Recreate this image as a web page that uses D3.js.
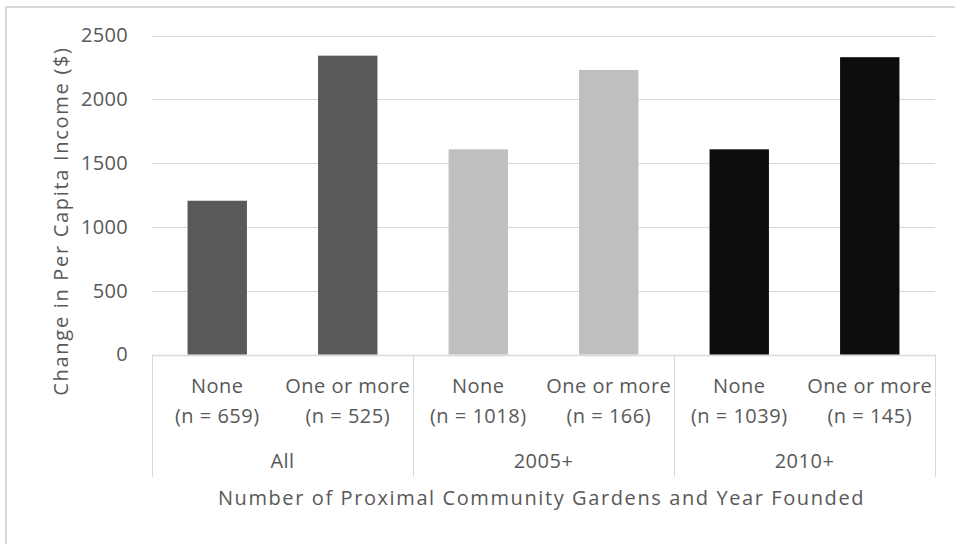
<!DOCTYPE html>
<html>
<head>
<meta charset="utf-8">
<script src="https://cdn.jsdelivr.net/npm/d3@7"></script>
<style>
  body { margin: 0; background: #fff; }
  svg { display: block; font-family: "Open Sans", Lato, sans-serif; }
</style>
</head>
<body>
<svg width="955" height="544"></svg>
<script>
// ---- dados
const groups = ['All', '2005+', '2010+'];
const subLabels = ['None', 'One or more', 'None', 'One or more', 'None', 'One or more'];
const nLabels = ['(n = 659)', '(n = 525)', '(n = 1018)', '(n = 166)', '(n = 1039)', '(n = 145)'];
const values = [1205, 2342, 1608, 2230, 1608, 2330];
const groupColors = ['#595959', '#bfbfbf', '#0d0d0d'];
const yTicks = [0, 500, 1000, 1500, 2000, 2500];

const svg = d3.select('svg');
const textColor = '#595959';
const fontFamily = '"Open Sans", Lato, sans-serif';
const fontSize = 20;

const plot = { left: 152, right: 935, top: 35.5, bottom: 354.5 };
const sepBottom = 477;

// borda do gráfico (só topo e esquerda aparecem)
svg.append('rect')
    .attr('x', 6).attr('y', 7)
    .attr('width', 1000).attr('height', 600)
    .attr('fill', 'none')
    .attr('stroke', '#d9d9d9')
    .attr('stroke-width', 2);

const data = values.map((v, i) => ({
    key: i,
    group: groups[Math.floor(i / 2)],
    sub: subLabels[i],
    n: nLabels[i],
    value: v
}));

// ---- escalas
const mapX = d3.scaleBand()
    .domain(data.map(d => d.key))
    .range([plot.left, plot.right])
    .paddingInner(0.545)
    .paddingOuter(0.2725);

const mapGroup = d3.scaleBand()
    .domain(groups)
    .range([plot.left, plot.right]);

const mapY = d3.scaleLinear()
    .domain([0, 2500])
    .range([plot.bottom, plot.top]);

// ---- grade + eixo y
const yAxis = d3.axisLeft(mapY)
    .tickValues(yTicks)
    .tickFormat(d3.format('d'))
    .tickSize(0)
    .tickPadding(0);

const gy = svg.append('g')
    .attr('transform', `translate(128,0)`)
    .call(yAxis);
gy.select('.domain').remove();
gy.selectAll('text')
    .attr('fill', textColor)
    .style('font-size', fontSize + 'px')
    .style('font-family', fontFamily)
    .style('letter-spacing', '0.3px');

svg.append('g')
    .selectAll('line')
    .data(yTicks)
    .join('line')
    .attr('x1', plot.left)
    .attr('x2', plot.right)
    .attr('y1', d => Math.round(mapY(d)) + 0.5)
    .attr('y2', d => Math.round(mapY(d)) + 0.5)
    .attr('stroke', '#d9d9d9')
    .attr('stroke-width', d => d === 0 ? 1.5 : 1);

// separadores das categorias
svg.append('g')
    .selectAll('line')
    .data(groups.map(g => mapGroup(g)).concat([plot.right]))
    .join('line')
    .attr('x1', d => Math.round(d) + 0.5)
    .attr('x2', d => Math.round(d) + 0.5)
    .attr('y1', plot.bottom)
    .attr('y2', sepBottom)
    .attr('stroke', '#d9d9d9')
    .attr('stroke-width', 1);

// ---- barras
svg.append('g')
    .selectAll('rect')
    .data(data)
    .join('rect')
    .attr('x', d => mapX(d.key))
    .attr('y', d => mapY(d.value))
    .attr('width', mapX.bandwidth())
    .attr('height', d => mapY(0) - mapY(d.value))
    .attr('fill', d => groupColors[groups.indexOf(d.group)]);

// ---- rótulos das categorias
const labels = svg.append('g')
    .attr('fill', textColor)
    .style('font-size', fontSize + 'px')
    .style('letter-spacing', '0.5px')
    .attr('text-anchor', 'middle');

labels.selectAll('.sub')
    .data(data)
    .join('text')
    .attr('class', 'sub')
    .attr('x', d => mapX(d.key) + mapX.bandwidth() / 2)
    .attr('y', 393)
    .text(d => d.sub);

labels.selectAll('.n')
    .data(data)
    .join('text')
    .attr('class', 'n')
    .attr('x', d => mapX(d.key) + mapX.bandwidth() / 2)
    .attr('y', 423)
    .text(d => d.n);

labels.selectAll('.grp')
    .data(groups)
    .join('text')
    .attr('class', 'grp')
    .attr('x', d => mapGroup(d) + mapGroup.bandwidth() / 2)
    .attr('y', 468)
    .text(d => d);

// ---- títulos dos eixos
svg.append('text')
    .attr('x', (plot.left + plot.right) / 2 - 2)
    .attr('y', 505)
    .attr('text-anchor', 'middle')
    .attr('fill', textColor)
    .style('font-size', fontSize + 'px')
    .style('letter-spacing', '1.6px')
    .text('Number of Proximal Community Gardens and Year Founded');

svg.append('text')
    .attr('transform', 'translate(68,221) rotate(-90)')
    .attr('text-anchor', 'middle')
    .attr('fill', textColor)
    .style('font-size', fontSize + 'px')
    .style('letter-spacing', '1.7px')
    .text('Change in Per Capita Income ($)');
</script>
</body>
</html>
